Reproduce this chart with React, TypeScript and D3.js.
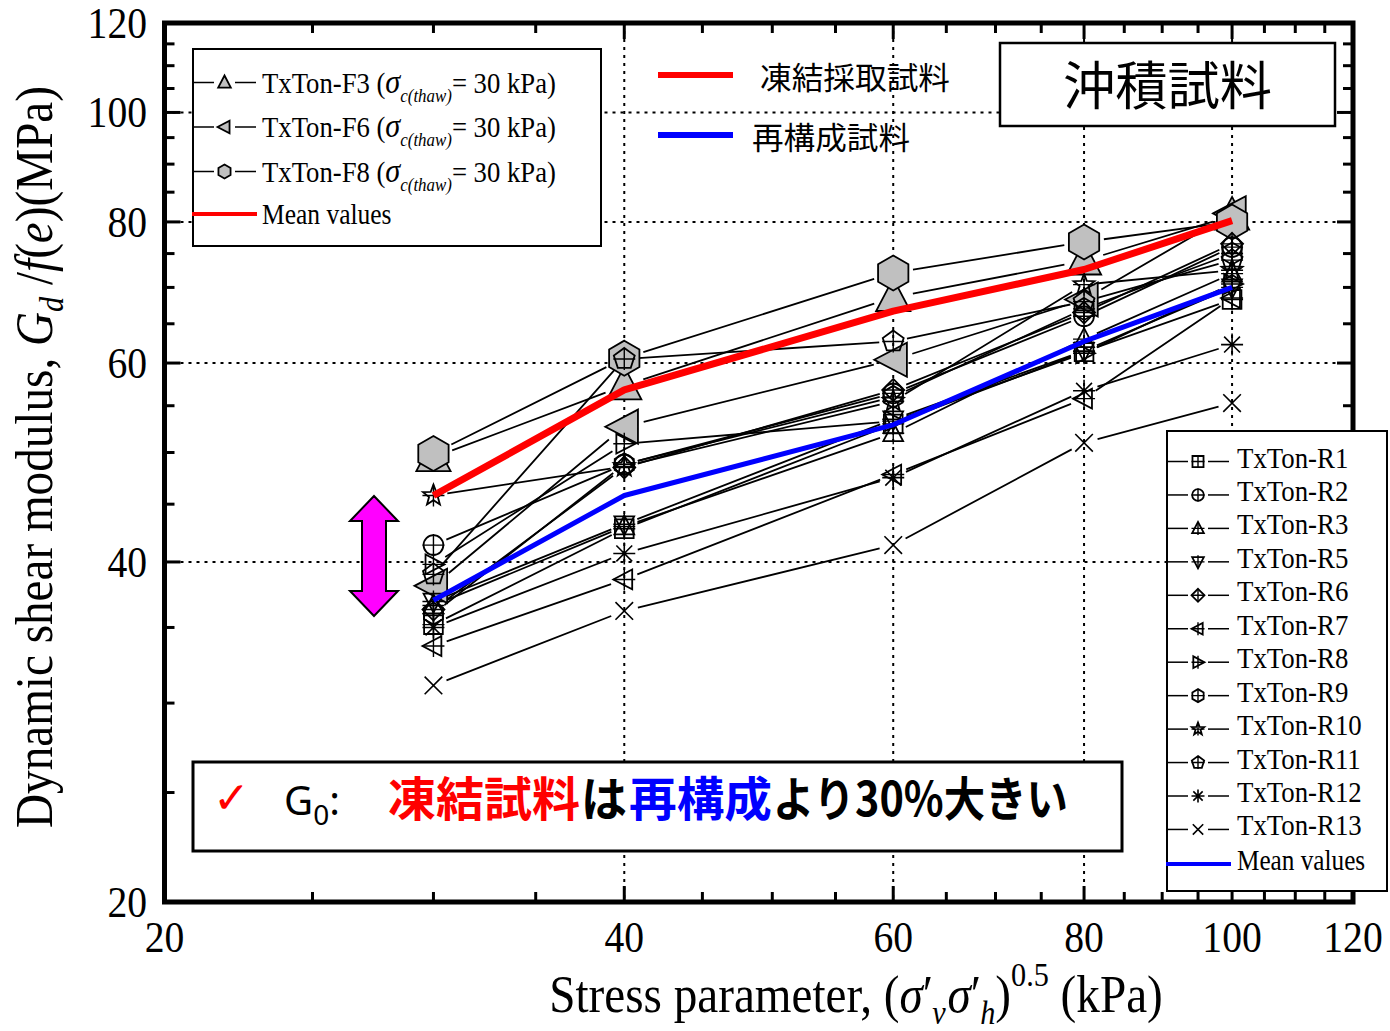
import React from "react";
import * as d3 from "d3";

// ---------- data ----------
const stress = [30, 40, 60, 80, 100];
const xTickLabels = [20, 40, 60, 80, 100, 120];
const yTickLabels = [20, 40, 60, 80, 100, 120];
const majorTicks = [40, 60, 80, 100];

// frozen samples
const F3 = [49.5, 57.3, 68.6, 73.9, 81.0];
const F6 = [38.1, 52.7, 60.4, 68.3, 81.4];
const F8 = [49.9, 60.6, 72.1, 76.8, 80.0];
const frozenMean = [45.8, 56.8, 66.7, 72.6, 80.2];

// reconstituted samples
const R1 = [35.2, 42.8, 53.0, 61.4, 68.3];
const R2 = [41.4, 48.8, 56.4, 66.0, 76.0];
const R3 = [36.6, 43.0, 52.0, 63.0, 72.0];
const R5 = [36.9, 43.2, 53.5, 61.5, 70.0];
const R6 = [36.3, 48.5, 56.8, 66.5, 76.5];
const R7 = [33.7, 38.6, 47.8, 55.8, 68.5];
const R8 = [39.8, 50.9, 53.3, 61.2, 70.5];
const R9 = [36.0, 48.8, 56.0, 67.0, 75.0];
const R10 = [45.8, 48.6, 55.5, 70.4, 72.5];
const R11 = [39.0, 60.5, 62.7, 68.0, 74.0];
const R12 = [35.0, 40.7, 47.5, 56.7, 62.3];
const R13 = [31.1, 36.2, 41.4, 51.0, 55.3];
const reconMean = [37.0, 45.8, 52.9, 62.7, 70.0];

const frozenSeries = [
  { name: "TxTon-F3", values: F3, shape: "triUp" },
  { name: "TxTon-F6", values: F6, shape: "triLeft" },
  { name: "TxTon-F8", values: F8, shape: "hexagon" },
];
const reconSeries = [
  { name: "TxTon-R1", values: R1, shape: "square" },
  { name: "TxTon-R2", values: R2, shape: "circle" },
  { name: "TxTon-R3", values: R3, shape: "triUp" },
  { name: "TxTon-R5", values: R5, shape: "triDown" },
  { name: "TxTon-R6", values: R6, shape: "diamond" },
  { name: "TxTon-R7", values: R7, shape: "triLeft" },
  { name: "TxTon-R8", values: R8, shape: "triRight" },
  { name: "TxTon-R9", values: R9, shape: "hexagon" },
  { name: "TxTon-R10", values: R10, shape: "star" },
  { name: "TxTon-R11", values: R11, shape: "pentagon" },
  { name: "TxTon-R12", values: R12, shape: "asterisk" },
  { name: "TxTon-R13", values: R13, shape: "x" },
];

// ---------- layout ----------
const L = 164.5, R = 1353, T = 23, B = 902;
const X = d3.scaleLog().domain([20, 120]).range([L, R]);
const Y = d3.scaleLog().domain([20, 120]).range([B, T]);
const SERIF = "'Liberation Serif', 'Times New Roman', serif";
const CJK = "'Noto Sans CJK JP', 'Noto Sans', sans-serif";

function poly(r: number, angles: number[], radii?: number[]) {
  return (
    angles
      .map((a, i) => {
        const rr = radii ? radii[i] : r;
        const t = (a * Math.PI) / 180;
        return (i ? "L" : "M") + (rr * Math.cos(t)).toFixed(2) + "," + (rr * Math.sin(t)).toFixed(2);
      })
      .join("") + "Z"
  );
}

function shapePath(shape: string, r: number): string {
  switch (shape) {
    case "square":
      return `M${-r * 0.85},${-r * 0.85}H${r * 0.85}V${r * 0.85}H${-r * 0.85}Z`;
    case "circle":
      return `M${r * 0.9},0A${r * 0.9},${r * 0.9} 0 1,1 ${-r * 0.9},0A${r * 0.9},${r * 0.9} 0 1,1 ${r * 0.9},0Z`;
    case "triUp":
      return `M0,${-r}L${0.9 * r},${0.72 * r}L${-0.9 * r},${0.72 * r}Z`;
    case "triDown":
      return `M0,${r}L${0.9 * r},${-0.72 * r}L${-0.9 * r},${-0.72 * r}Z`;
    case "triLeft":
      return `M${-r},0L${0.72 * r},${-0.9 * r}L${0.72 * r},${0.9 * r}Z`;
    case "triRight":
      return `M${r},0L${-0.72 * r},${-0.9 * r}L${-0.72 * r},${0.9 * r}Z`;
    case "diamond":
      return poly(r, [-90, 0, 90, 180]);
    case "hexagon":
      return poly(r, [-90, -30, 30, 90, 150, 210]);
    case "pentagon":
      return poly(r, [-90, -18, 54, 126, 198]);
    case "star": {
      const a: number[] = [], rr: number[] = [];
      for (let i = 0; i < 10; i++) {
        a.push(-90 + i * 36);
        rr.push(i % 2 ? r * 0.42 : r);
      }
      return poly(r, a, rr);
    }
    case "asterisk": {
      const d = r * 0.72;
      return `M0,${-r}V${r}M${-r},0H${r}M${-d},${-d}L${d},${d}M${-d},${d}L${d},${-d}`;
    }
    case "x": {
      const d = r * 0.8;
      return `M${-d},${-d}L${d},${d}M${-d},${d}L${d},${-d}`;
    }
  }
  return "";
}

function Marker({ shape, x, y, r, fill, plus }: any) {
  const open = shape === "asterisk" || shape === "x";
  return (
    <g transform={`translate(${x},${y})`}>
      <path d={shapePath(shape, r)} fill={open ? "none" : fill} stroke="#000" strokeWidth={open ? 1.6 : 1.8} strokeLinejoin="miter" />
      {plus && !open && (
        <path d={`M0,${-r}V${r}M${-r},0H${r}`} stroke="#000" strokeWidth={1.4} fill="none" />
      )}
    </g>
  );
}

function gapLines(values: number[], gap: number) {
  const pts = stress.map((s, i) => [X(s), Y(values[i])]);
  const segs: string[] = [];
  for (let i = 0; i < pts.length - 1; i++) {
    const [x0, y0] = pts[i];
    const [x1, y1] = pts[i + 1];
    const dx = x1 - x0, dy = y1 - y0;
    const len = Math.hypot(dx, dy);
    if (len <= gap * 2 + 2) continue;
    const ux = dx / len, uy = dy / len;
    segs.push(`M${x0 + ux * gap},${y0 + uy * gap}L${x1 - ux * gap},${y1 - uy * gap}`);
  }
  return segs.join("");
}

const lineGen = d3
  .line<number>()
  .x((_, i) => X(stress[i]))
  .y((d) => Y(d));

function ST({ x, y, sx = 1, rotate = 0, size, anchor = "start", family = SERIF, weight = "normal", fill = "#000", children }: any) {
  return (
    <g transform={`translate(${x},${y}) rotate(${rotate}) scale(${sx},1)`}>
      <text x={0} y={0} fontSize={size} textAnchor={anchor} fontFamily={family} fontWeight={weight} fill={fill}>
        {children}
      </text>
    </g>
  );
}

export default function App() {
  const minorTicks = d3.range(25, 120, 5).filter((v) => !majorTicks.includes(v));
  const fRow0 = 82.5, fStep = 44.5;
  const rRow0 = 461.5, rStep = 33.45;

  return (
    <svg width={1390} height={1031} style={{ position: "absolute", left: 0, top: 0, background: "#fff" }}>
      <rect x={0} y={0} width={1390} height={1031} fill="#fff" />
      {/* grid */}
      <g stroke="#000" strokeWidth={2} strokeDasharray="3,5">
        {majorTicks.map((v) => (
          <line key={"gx" + v} x1={X(v)} x2={X(v)} y1={T} y2={B} />
        ))}
        {majorTicks.map((v) => (
          <line key={"gy" + v} x1={L} x2={R} y1={Y(v)} y2={Y(v)} />
        ))}
      </g>

      {/* boxes */}
      <rect x={193} y={49} width={408} height={197} fill="#fff" stroke="#000" strokeWidth={2} />
      <rect x={1000} y={43} width={335} height={83} fill="#fff" stroke="#000" strokeWidth={2.5} />
      <rect x={193} y={762} width={929} height={89} fill="#fff" stroke="#000" strokeWidth={3} />

      {/* series lines */}
      <g stroke="#000" strokeWidth={1.8} fill="none">
        {frozenSeries.map((s) => (
          <path key={"fl" + s.name} d={gapLines(s.values, 20)} />
        ))}
        {reconSeries.map((s) => (
          <path key={"rl" + s.name} d={gapLines(s.values, 14)} />
        ))}
      </g>
      {/* markers */}
      {frozenSeries.map((s) =>
        s.values.map((v, i) => (
          <Marker key={s.name + i} shape={s.shape} x={X(stress[i])} y={Y(v)} r={s.shape === "hexagon" ? 17.5 : 19} fill="#c0c0c0" />
        ))
      )}
      {reconSeries.map((s) =>
        s.values.map((v, i) => (
          <Marker key={s.name + i} shape={s.shape} x={X(stress[i])} y={Y(v)} r={11} fill="none" plus />
        ))
      )}
      {/* mean lines */}
      <path d={lineGen(frozenMean) || ""} stroke="#ff0000" strokeWidth={7} fill="none" strokeLinejoin="round" />
      <path d={lineGen(reconMean) || ""} stroke="#0000ff" strokeWidth={5} fill="none" strokeLinejoin="round" />

      {/* frame and ticks */}
      <g stroke="#000" strokeWidth={3}>
        {minorTicks.map((v) => (
          <g key={"mt" + v}>
            <line x1={X(v)} x2={X(v)} y1={B} y2={B - 10} />
            <line x1={X(v)} x2={X(v)} y1={T} y2={T + 10} />
            <line y1={Y(v)} y2={Y(v)} x1={L} x2={L + 10} />
            <line y1={Y(v)} y2={Y(v)} x1={R} x2={R - 10} />
          </g>
        ))}
        {majorTicks.map((v) => (
          <g key={"Mt" + v}>
            <line x1={X(v)} x2={X(v)} y1={B} y2={B - 16} />
            <line x1={X(v)} x2={X(v)} y1={T} y2={T + 16} />
            <line y1={Y(v)} y2={Y(v)} x1={L} x2={L + 16} />
            <line y1={Y(v)} y2={Y(v)} x1={R} x2={R - 16} />
          </g>
        ))}
      </g>
      <rect x={L} y={T} width={R - L} height={B - T} fill="none" stroke="#000" strokeWidth={5} />

      {/* tick labels */}
      {xTickLabels.map((v) => (
        <ST key={"xl" + v} x={X(v)} y={952} size={45} sx={0.88} anchor="middle">
          {v}
        </ST>
      ))}
      {yTickLabels.map((v) => (
        <ST key={"yl" + v} x={147} y={Y(v) + 15} size={45} sx={0.88} anchor="end">
          {v}
        </ST>
      ))}

      {/* axis titles */}
      <ST x={52} y={457} rotate={-90} sx={0.89} size={53} anchor="middle">
        Dynamic shear modulus, <tspan fontStyle="italic">G</tspan>
        <tspan fontStyle="italic" fontSize={34} dy={11}>d</tspan>
        <tspan dy={-11}> /</tspan>
        <tspan fontStyle="italic">f</tspan>(<tspan fontStyle="italic">e</tspan>)(MPa)
      </ST>
      <ST x={856} y={1012} sx={0.89} size={53} anchor="middle">
        Stress parameter, (<tspan fontStyle="italic">σ</tspan>
        <tspan>′</tspan>
        <tspan fontStyle="italic" fontSize={34} dy={12} dx={-1}>v</tspan>
        <tspan fontStyle="italic" dy={-12} dx={2}>σ</tspan>
        <tspan>′</tspan>
        <tspan fontStyle="italic" fontSize={34} dy={12} dx={-1}>h</tspan>
        <tspan dy={-12}>)</tspan>
        <tspan fontSize={34} dy={-26}>0.5</tspan>
        <tspan dy={26}> (kPa)</tspan>
      </ST>

      {/* frozen legend */}
      {frozenSeries.map((s, i) => {
        const y = fRow0 + i * fStep;
        return (
          <g key={"fleg" + s.name}>
            <line x1={193} x2={214} y1={y} y2={y} stroke="#000" strokeWidth={1.5} />
            <line x1={235} x2={256} y1={y} y2={y} stroke="#000" strokeWidth={1.5} />
            <Marker shape={s.shape} x={224.5} y={y} r={7} fill="#c0c0c0" />
            <ST x={262} y={y + 10} sx={0.89} size={30}>
              {s.name} (<tspan fontStyle="italic" fontSize={34}>σ</tspan>
              <tspan fontStyle="italic" fontSize={19} dy={9}>c(thaw)</tspan>
              <tspan dy={-9}>= 30 kPa)</tspan>
            </ST>
          </g>
        );
      })}
      <line x1={192} x2={257} y1={fRow0 + 3 * fStep - 2} y2={fRow0 + 3 * fStep - 2} stroke="#ff0000" strokeWidth={4} />
      <ST x={262} y={fRow0 + 3 * fStep + 8} sx={0.85} size={30}>
        Mean values
      </ST>

      {/* recon legend (drawn above the frame) */}
      <rect x={1167} y={431} width={220} height={460} fill="#fff" stroke="#000" strokeWidth={2} />
      {reconSeries.map((s, i) => {
        const y = rRow0 + i * rStep;
        return (
          <g key={"rleg" + s.name}>
            <line x1={1167} x2={1188} y1={y} y2={y} stroke="#000" strokeWidth={1.5} />
            <line x1={1208} x2={1229} y1={y} y2={y} stroke="#000" strokeWidth={1.5} />
            <Marker shape={s.shape} x={1198} y={y} r={6.5} fill="none" plus />
            <ST x={1237} y={y + 6} sx={0.925} size={29}>
              {s.name}
            </ST>
          </g>
        );
      })}
      <line x1={1166} x2={1231} y1={rRow0 + 12 * rStep + 1} y2={rRow0 + 12 * rStep + 1} stroke="#0000ff" strokeWidth={4} />
      <ST x={1237} y={rRow0 + 12 * rStep + 7} sx={0.87} size={29}>
        Mean values
      </ST>

      {/* top middle legend */}
      <line x1={658} x2={733} y1={75} y2={75} stroke="#ff0000" strokeWidth={6} />
      <text x={760} y={89} fontFamily={CJK} fontSize={31} textLength={190} lengthAdjust="spacingAndGlyphs">凍結採取試料</text>
      <line x1={658} x2={733} y1={135} y2={135} stroke="#0000ff" strokeWidth={6} />
      <text x={752} y={149} fontFamily={CJK} fontSize={31} textLength={158} lengthAdjust="spacingAndGlyphs">再構成試料</text>

      {/* title box */}
      <text x={1063} y={105} fontFamily={CJK} fontSize={52} textLength={209} lengthAdjust="spacingAndGlyphs">沖積試料</text>

      {/* annotation */}
      <text x={213} y={813} fontFamily="'DejaVu Sans', sans-serif" fontSize={44} fill="#ff0000">✓</text>
      <text x={284} y={815} fontFamily="'Noto Sans', sans-serif" fontSize={40}>
        G<tspan fontSize={28} dy={10}>0</tspan>
        <tspan dy={-10}>:</tspan>
      </text>
      <text x={388} y={816} fontFamily={CJK} fontWeight="bold" fontSize={47} fill="#ff0000" textLength={192} lengthAdjust="spacingAndGlyphs">凍結試料</text>
      <text x={581} y={816} fontFamily={CJK} fontWeight="bold" fontSize={47} fill="#000" textLength={46} lengthAdjust="spacingAndGlyphs">は</text>
      <text x={629} y={816} fontFamily={CJK} fontWeight="bold" fontSize={47} fill="#0000ff" textLength={143} lengthAdjust="spacingAndGlyphs">再構成</text>
      <text x={773} y={816} fontFamily={CJK} fontWeight="bold" fontSize={47} fill="#000" textLength={295} lengthAdjust="spacingAndGlyphs">より30%大きい</text>

      {/* magenta double arrow */}
      <path
        d="M374,496 L398,521 L386,521 L386,591 L398,591 L374,616 L350,591 L362,591 L362,521 L350,521 Z"
        fill="#ff00ff"
        stroke="#000"
        strokeWidth={2}
      />
    </svg>
  );
}
